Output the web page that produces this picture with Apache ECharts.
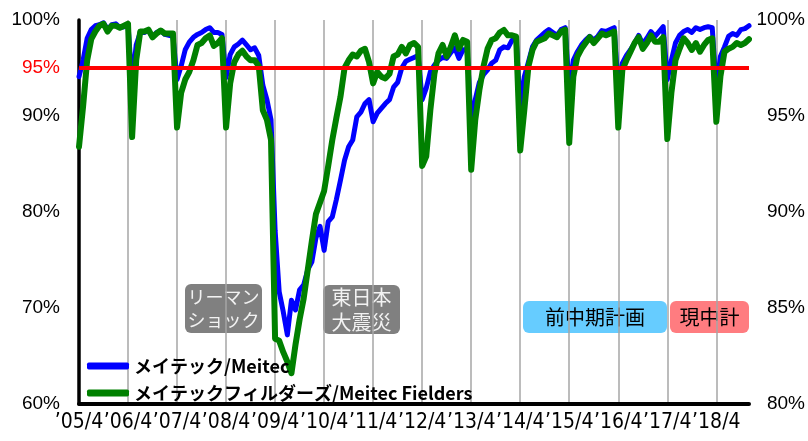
<!DOCTYPE html>
<html>
<head>
<meta charset="utf-8">
<script src="https://cdn.jsdelivr.net/npm/echarts@6/dist/echarts.min.js"></script>
<style>
  html, body { margin: 0; padding: 0; background: #fff; }
  #chart { width: 808px; height: 441px; }
</style>
</head>
<body>
<div id="chart"></div>
<script>
// monthly series, April 2005 .. December 2018
const firstYear = 2005;
const firstMonth = 4;

// メイテック (left axis, %)
const meitec = [
  94.1, 95.8, 98.1, 99.0, 99.4, 99.5, 99.7, 99.0, 99.5, 99.6, 99.2, 99.3,
  99.5, 93.4, 97.4, 98.7, 98.7, 98.9, 98.2, 98.7, 98.9, 98.5, 98.4, 98.3,
  93.8, 95.2, 96.9, 97.7, 98.2, 98.5, 98.7, 99.0, 99.2, 98.7, 98.7, 98.5,
  94.0, 96.4, 97.2, 97.5, 97.9, 97.4, 96.9, 97.1, 96.3, 93.2, 91.7, 89.6,
  78.1, 71.7, 69.6, 67.2, 70.8, 69.8, 71.9, 72.4, 74.0, 74.8, 77.3, 78.5,
  76.0, 79.0, 79.5, 81.3, 83.3, 85.4, 86.8, 87.5, 89.9, 90.4, 91.3, 91.7,
  89.4, 90.3, 90.8, 91.3, 91.7, 93.0, 93.5, 95.0, 95.7, 95.9, 96.1, 96.3,
  91.7, 92.9, 94.6, 95.3, 95.8, 96.1, 96.0, 96.6, 97.1, 96.0, 96.9, 96.9,
  89.3, 91.7, 93.5, 94.3, 94.8, 95.5, 95.8, 96.9, 97.2, 97.1, 97.9, 98.1,
  90.9, 94.1, 95.6, 97.2, 97.9, 98.3, 98.7, 99.0, 98.7, 98.4, 99.0, 99.2,
  92.7, 95.8, 96.7, 97.4, 97.9, 98.3, 97.9, 98.3, 98.9, 98.8, 99.0, 99.2,
  92.7, 95.5, 96.3, 96.9, 97.6, 98.4, 97.5, 98.1, 98.8, 98.3, 98.8, 99.3,
  93.8, 95.8, 97.6, 98.4, 98.8, 99.0, 98.7, 99.2, 99.0, 99.2, 99.3, 99.2,
  92.7, 96.2, 97.2, 98.3, 98.6, 98.4, 99.0, 99.1, 99.4
];

// メイテックフィルダーズ (right axis, %)
const fielders = [
  93.4, 95.5, 97.9, 99.0, 99.4, 99.7, 99.8, 99.4, 99.7, 99.7, 99.6, 99.7,
  99.8, 93.9, 97.9, 99.4, 99.4, 99.5, 99.1, 99.3, 99.45, 99.3, 99.3, 99.3,
  94.4, 96.2, 96.9, 97.3, 97.9, 98.7, 98.8, 99.05, 99.2, 98.65, 98.8, 99.05,
  94.4, 96.7, 97.8, 98.2, 98.4, 98.1, 97.9, 97.9, 97.6, 95.3, 94.8, 93.75,
  83.4, 83.3, 82.7, 82.2, 81.6, 83.1, 84.4, 85.5, 87.0, 88.5, 89.9, 90.5,
  91.1, 92.4, 93.75, 94.9, 96.0, 97.5, 97.9, 98.2, 98.1, 98.4, 98.5, 97.8,
  96.7, 97.3, 97.05, 96.96, 97.2, 98.1, 98.2, 98.6, 98.26, 98.7, 98.8, 98.6,
  92.4, 92.9, 95.3, 97.2, 98.26, 98.7, 98.1, 98.6, 99.2, 98.5, 98.96, 98.87,
  92.2, 94.8, 96.35, 97.57, 98.5, 98.96, 99.05, 99.35, 99.48, 99.2, 99.2, 99.13,
  93.2, 95.3, 97.57, 98.44, 98.87, 98.96, 99.05, 99.3, 99.2, 99.1, 99.4, 99.5,
  93.6, 97.05, 98.1, 98.5, 98.8, 99.1, 98.8, 99.05, 99.3, 99.2, 99.3, 99.4,
  94.4, 97.4, 97.9, 98.35, 98.8, 99.1, 98.5, 98.8, 99.2, 98.87, 98.87, 99.1,
  93.8, 96.2, 97.9, 98.5, 99.05, 98.8, 98.44, 98.8, 98.35, 98.7, 98.96, 99.05,
  94.7, 97.05, 98.35, 98.5, 98.6, 98.8, 98.7, 98.8, 99.0
];

const seriesNames = ["メイテック/Meitec", "メイテックフィルダーズ/Meitec Fielders"];
const targetRate = 95;
const leftTicks = [60, 70, 80, 90, 95, 100];

// month labels like ’05/4
const months = meitec.map((_, i) => {
  const m = firstMonth - 1 + i;
  const y = firstYear + Math.floor(m / 12);
  return "\u2019" + String(y % 100).padStart(2, "0") + "/" + ((m % 12) + 1);
});

const notes = [
  { text: "リーマン\nショック", box: [185, 284, 77, 49], fill: "#808080", color: "#f2f2f2", size: 18 },
  { text: "東日本\n大震災", box: [323, 285, 77, 49], fill: "#808080", color: "#f2f2f2", size: 20 },
  { text: "前中期計画", box: [523, 301, 144, 32], fill: "#66ccff", color: "#000", size: 20 },
  { text: "現中計", box: [670, 301, 79, 32], fill: "#ff7c80", color: "#000", size: 20 }
];

const jp = "'Noto Sans CJK JP', sans-serif";
const narrow = "'DejaVu Sans Condensed', sans-serif";
const isApril = (i) => i % 12 === 0;

const chart = echarts.init(document.getElementById("chart"), null, { renderer: "canvas" });

chart.setOption({
  animation: false,
  backgroundColor: "#fff",
  grid: { left: 79, right: 57, top: 20, bottom: 37 },
  legend: {
    left: 82,
    top: 352,
    orient: "vertical",
    icon: "roundRect",
    itemWidth: 42,
    itemHeight: 7,
    itemGap: 9,
    data: seriesNames,
    textStyle: { fontFamily: jp, fontSize: 18, fontWeight: "bold", color: "#000" }
  },
  xAxis: {
    type: "category",
    data: months,
    boundaryGap: false,
    axisLine: { lineStyle: { color: "#000", width: 4 } },
    axisTick: { show: false },
    axisLabel: {
      interval: isApril,
      showMinLabel: true,
      showMaxLabel: true,
      hideOverlap: false,
      color: "#000",
      fontFamily: narrow,
      fontSize: 21,
      margin: 8
    },
    splitLine: { show: true, interval: isApril, lineStyle: { color: "#a6a6a6", width: 1.5 } }
  },
  yAxis: [
    {
      type: "value",
      min: 60,
      max: 100,
      interval: 5,
      axisLine: { show: true, lineStyle: { color: "#000", width: 3.5 } },
      axisTick: { show: false },
      splitLine: { show: false },
      axisLabel: {
        margin: 19,
        color: "#000",
        fontFamily: "'Liberation Sans', Arial, sans-serif",
        fontSize: 19,
        formatter: (v) => {
          if (leftTicks.indexOf(v) < 0) return "";
          return v === targetRate ? "{r|" + v + "%}" : v + "%";
        },
        rich: { r: { color: "#ff0000", fontFamily: "'Liberation Sans', Arial, sans-serif", fontSize: 19 } }
      }
    },
    {
      type: "value",
      min: 80,
      max: 100,
      interval: 5,
      position: "right",
      axisLine: { show: false },
      axisTick: { show: false },
      splitLine: { show: false },
      axisLabel: {
        margin: 56,
        align: "right",
        color: "#000",
        fontFamily: "'Liberation Sans', Arial, sans-serif",
        fontSize: 19,
        formatter: "{value}%"
      }
    }
  ],
  series: [
    {
      name: seriesNames[0],
      type: "line",
      yAxisIndex: 0,
      data: meitec,
      showSymbol: false,
      color: "#0000ff",
      lineStyle: { color: "#0000ff", width: 5, cap: "round", join: "round" },
      markLine: {
        silent: true,
        symbol: "none",
        z: 10,
        label: { show: false },
        lineStyle: { color: "#ff0000", width: 4, type: "solid" },
        data: [{ yAxis: targetRate }]
      }
    },
    {
      name: seriesNames[1],
      type: "line",
      yAxisIndex: 1,
      data: fielders,
      showSymbol: false,
      color: "#008000",
      lineStyle: { color: "#008000", width: 6, cap: "round", join: "round" }
    }
  ],
  graphic: notes.map((n) => ({
    type: "group",
    children: [
      {
        type: "rect",
        shape: { x: n.box[0], y: n.box[1], width: n.box[2], height: n.box[3], r: 6 },
        style: { fill: n.fill }
      },
      {
        type: "text",
        x: n.box[0] + n.box[2] / 2,
        y: n.box[1] + n.box[3] / 2,
        style: {
          text: n.text,
          fill: n.color,
          font: n.size + "px " + jp,
          lineHeight: n.size + 5,
          align: "center",
          verticalAlign: "middle"
        }
      }
    ]
  }))
});
</script>
</body>
</html>
